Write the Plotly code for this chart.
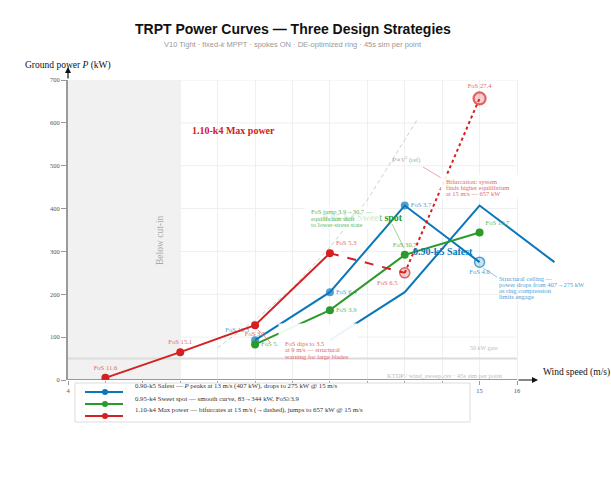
import plotly.graph_objects as go

# ---------------- data ----------------
wind_blue = [9, 11, 13, 15]
power_blue = [93, 205, 407, 275]
fos_blue = ["10.3", "6.4", "3.7", "4.0"]

wind_green = [9, 11, 13, 15]
power_green = [83, 163, 292, 344]
fos_green = ["5.1", "3.9", "30.7", "10.7"]

wind_red = [5, 7, 9, 11]
power_red = [5, 65, 128, 296]
fos_red = ["11.6", "15.1", "3.5", "5.3"]

wind_red_branch = [11, 13, 15]
power_red_branch = [296, 250, 657]
fos_red_branch = ["6.5", "27.4"]

wind_ref = [8, 9, 10, 11, 12, 13.33]
power_ref = [75, 140, 215, 310, 420, 607]

gate_kw = 50
cut_in = [4, 7]
x_ticks = list(range(4, 17))
y_ticks = list(range(0, 701, 100))
blue_offset = 2  # the Safest curve also appears drawn a second time, shifted by +2 m/s

series_names = [
    "0.90-k5 Safest — <i>P</i> peaks at 13 m/s (407 kW), drops to 275 kW @ 15 m/s",
    "0.95-k4 Sweet spot — smooth curve, 83→344 kW, FoS≥3.9",
    "1.10-k4 Max power — bifurcates at 13 m/s (→dashed), jumps to 657 kW @ 15 m/s",
]
BLUE, GREEN, RED = "#0a77bb", "#2a9a2a", "#d42020"
BLUE_L, GREEN_L, RED_L = "#4ba2d6", "#5cb85c", "#e06a6a"
series_colors = [BLUE, GREEN, RED]

SERIF = "Liberation Serif, Times New Roman, serif"
SANS = "Liberation Sans, Arial, sans-serif"

# ---------------- geometry ----------------
L, T, W, H = 68, 80, 543, 300
PX_PER_MS = (517 - 68) / 12.0
x_range = [4, 4 + W / PX_PER_MS]


def px(x):
    return (x - L) / W


def py(y):
    return (T + H - y) / H


fig = go.Figure()

# reference cubic
fig.add_trace(go.Scatter(x=wind_ref, y=power_ref, mode="lines", name="P∝V³ (ref)",
                         line=dict(color="#cfcfcf", width=1, dash="4px,3px"), hoverinfo="skip"))
# duplicated Safest curve (offset)
fig.add_trace(go.Scatter(x=[w + blue_offset for w in wind_blue], y=power_blue, mode="lines",
                         name="Safest (offset copy)", line=dict(color=BLUE, width=2)))
# Safest
fig.add_trace(go.Scatter(
    x=wind_blue, y=power_blue, mode="lines+markers+text", name=series_names[0],
    line=dict(color=BLUE, width=2),
    marker=dict(color=[BLUE, BLUE, BLUE, "rgba(10,119,187,0.3)"], size=[8, 8, 8, 10],
                line=dict(color=BLUE, width=[0, 0, 0, 1.5])),
    text=["FoS " + f for f in fos_blue],
    textposition=["top left", "middle right", "middle right", "bottom center"],
    textfont=dict(family=SERIF, size=6.6, color=BLUE_L)))
# Sweet spot
fig.add_trace(go.Scatter(
    x=wind_green, y=power_green, mode="lines+markers+text", name=series_names[1],
    line=dict(color=GREEN, width=2), marker=dict(color=GREEN, size=8),
    text=["FoS " + f for f in fos_green],
    textposition=["middle right", "middle right", "top center", "top right"],
    textfont=dict(family=SERIF, size=6.6, color=GREEN_L)))
# Max power solid
fig.add_trace(go.Scatter(
    x=wind_red, y=power_red, mode="lines+markers+text", name=series_names[2],
    line=dict(color=RED, width=2), marker=dict(color=RED, size=8),
    text=["FoS " + f for f in fos_red],
    textposition=["top center", "top center", "bottom center", "top right"],
    textfont=dict(family=SERIF, size=6.6, color=RED_L)))
# bifurcated branch
fig.add_trace(go.Scatter(x=wind_red_branch[:2], y=power_red_branch[:2], mode="lines",
                         line=dict(color=RED, width=2, dash="dash"), showlegend=False))
fig.add_trace(go.Scatter(x=wind_red_branch[1:], y=power_red_branch[1:], mode="lines",
                         line=dict(color=RED, width=2, dash="dot"), showlegend=False))
fig.add_trace(go.Scatter(
    x=wind_red_branch[1:], y=power_red_branch[1:], mode="markers+text", showlegend=False,
    marker=dict(color="rgba(212,32,32,0.3)", size=[10, 12], line=dict(color=RED, width=[1.5, 2.2])),
    text=["FoS " + f for f in fos_red_branch], textposition=["bottom left", "top center"],
    textfont=dict(family=SERIF, size=6.6, color=RED_L)))

shapes = []
# horizontal grid (stops at 16 m/s)
for yv in y_ticks[1:]:
    shapes.append(dict(type="line", xref="x", yref="y", x0=x_ticks[0], x1=x_ticks[-1], y0=yv, y1=yv,
                       line=dict(color="#efefef", width=1), layer="between"))
# below cut-in shade
shapes.append(dict(type="rect", xref="x", yref="y", x0=cut_in[0], x1=cut_in[1], y0=y_ticks[0], y1=y_ticks[-1],
                   fillcolor="#f1f1f1", line=dict(width=0), layer="between"))
# 50 kW gate
shapes.append(dict(type="line", xref="x", yref="y", x0=x_ticks[0], x1=x_ticks[-1], y0=gate_kw, y1=gate_kw,
                   line=dict(color="#dcdcdc", width=2), layer="between"))
# x axis line
shapes.append(dict(type="line", xref="x", yref="y", x0=x_ticks[0], x1=x_ticks[-1], y0=0, y1=0,
                   line=dict(color="#9a9a9a", width=2), layer="between"))
# leader lines
for (a, b, c, d, col) in [(392, 224, 404, 248, "rgba(92,184,92,0.6)"),
                          (423, 167, 443, 179, "rgba(224,106,106,0.6)"),
                          (483, 268, 497, 277, "rgba(75,162,214,0.6)"),
                          (258, 330, 270, 342, "rgba(224,106,106,0.6)")]:
    shapes.append(dict(type="line", xref="paper", yref="paper", x0=px(a), y0=py(b), x1=px(c), y1=py(d),
                       line=dict(color=col, width=1), layer="above"))
# custom legend box + glyphs
shapes.append(dict(type="rect", xref="paper", yref="paper", x0=px(75), x1=px(470), y0=py(422), y1=py(383),
                   fillcolor="white", line=dict(color="#dddddd", width=1), layer="above"))
legend_rows = [392, 404, 416]
for row, col in zip(legend_rows, series_colors):
    shapes.append(dict(type="line", xref="paper", yref="paper", x0=px(85), x1=px(123), y0=py(row), y1=py(row),
                       line=dict(color=col, width=2.2), layer="above"))
    shapes.append(dict(type="circle", xref="paper", yref="paper", x0=px(102), x1=px(108),
                       y0=py(row + 3), y1=py(row - 3), fillcolor=col, line=dict(color=col, width=0), layer="above"))

ann = []
# titles
ann.append(dict(x=10, xref="x", y=py(19), yref="paper", xanchor="center",
                text="<b>TRPT Power Curves — Three Design Strategies</b>",
                showarrow=False, font=dict(family=SANS, size=14, color="#111")))
ann.append(dict(x=10, xref="x", y=py(38), yref="paper", xanchor="center",
                text="V10 Tight · fixed-<i>k</i> MPPT · spokes ON · DE-optimized ring · 45s sim per point",
                showarrow=False, font=dict(family=SANS, size=7.5, color="#999")))
# axis titles and arrows
ann.append(dict(x=px(68), xref="paper", y=py(58), yref="paper", xanchor="center",
                text="Ground power <i>P</i> (kW)",
                showarrow=False, font=dict(family=SERIF, size=9.5, color="#111")))
ann.append(dict(x=px(541), xref="paper", y=py(380), yref="paper", text="Wind speed (m/s)", xanchor="left",
                showarrow=False, font=dict(family=SERIF, size=9.5, color="#111")))
ann.append(dict(x=px(538), xref="paper", y=py(380), yref="paper", text="", showarrow=True, ax=-21, ay=0,
                arrowhead=2, arrowsize=1, arrowwidth=1.2, arrowcolor="#111"))
ann.append(dict(x=px(68), xref="paper", y=py(67), yref="paper", text="", showarrow=True, ax=0, ay=13,
                arrowhead=2, arrowsize=1, arrowwidth=1.2, arrowcolor="#111"))
# misc labels
ann.append(dict(x=px(160), xref="paper", y=py(240), yref="paper", text="Below cut-in", textangle=-90,
                xanchor="center", showarrow=False, font=dict(family=SERIF, size=9.5, color="#aaa")))
ann.append(dict(x=px(484), xref="paper", y=py(353), yref="paper", text="50 kW gate", xanchor="center",
                showarrow=False, font=dict(family=SERIF, size=6, color="#bbb")))
ann.append(dict(x=px(444), xref="paper", y=py(381), yref="paper", xanchor="center",
                text="KTDP / wind_sweep.csv · 45s sim per point",
                showarrow=False, font=dict(family=SERIF, size=6.5, color="#bbb")))
ann.append(dict(x=px(405), xref="paper", y=py(153), yref="paper", xanchor="center",
                text="<i>P</i>∝<i>V</i><sup>3</sup> (ref)",
                showarrow=False, font=dict(family=SERIF, size=6.5, color="#aaa")))
# series labels
ann.append(dict(x=px(190), xref="paper", y=py(123), yref="paper", text="<b>1.10-k4 Max power</b>", xanchor="left",
                showarrow=False, font=dict(family=SERIF, size=10, color=RED)))
ann.append(dict(x=px(405), xref="paper", y=py(217), yref="paper", text="<b>0.95-k4 Sweet spot</b>", xanchor="right",
                showarrow=False, font=dict(family=SERIF, size=10, color=GREEN)))
ann.append(dict(x=px(411), xref="paper", y=py(251), yref="paper", text="<b>0.90-k5 Safest</b>", xanchor="left",
                showarrow=False, font=dict(family=SERIF, size=10, color=BLUE)))
# background boxes for notes
for (x0, y0, x1, y1, a) in [(305, 207, 380, 229, 0.82), (441, 175, 520, 198, 0.9), (279, 337, 357, 361, 0.92)]:
    ann.append(dict(x=px((x0 + x1) / 2), xref="paper", y=py((y0 + y1) / 2), yref="paper", text=" ",
                    xanchor="center", width=x1 - x0, height=y1 - y0, bgcolor="rgba(255,255,255,%s)" % a,
                    borderpad=0, showarrow=False, font=dict(size=4)))


def note(lines, left, top, spacing, color):
    for i, line in enumerate(lines):
        ann.append(dict(x=px(left), xref="paper", y=py(top), yref="paper", text=line, xanchor="left",
                        yanchor="middle", yshift=-i * spacing, showarrow=False,
                        font=dict(family=SERIF, size=6.5, color=color)))


note(["FoS jump 3.9→30.7 —", "equilibrium shift", "to lower-stress state"], 309, 212, 6.5, GREEN_L)
note(["Bifurcation: system", "finds higher equilibrium", "at 15 m/s — 657 kW"], 444, 181, 6, RED_L)
note(["Structural ceiling —", "power drops from 407→275 kW", "as ring compression", "limits engage"],
     497, 278, 6, BLUE_L)
note(["FoS dips to 3.5", "at 9 m/s — structural", "warning for large blades"], 283, 343, 6.5, RED_L)

# legend texts
for row, name in zip(legend_rows, series_names):
    ann.append(dict(x=px(133), xref="paper", y=py(row), yref="paper", text=name, xanchor="left",
                    showarrow=False, font=dict(family=SERIF, size=6.8, color="#333")))

fig.update_layout(
    width=611, height=500, margin=dict(l=L, r=611 - L - W, t=T, b=500 - T - H),
    paper_bgcolor="white", plot_bgcolor="white", showlegend=False,
    shapes=shapes, annotations=ann,
    xaxis=dict(range=x_range, tickvals=x_ticks, ticktext=[str(v) for v in x_ticks], showgrid=True,
               gridcolor="#efefef", gridwidth=1, zeroline=False, showline=False, ticks="outside",
               ticklen=4, tickcolor="#999", tickwidth=1.2,
               tickfont=dict(family=SERIF, size=6.5, color="#555")),
    yaxis=dict(range=[y_ticks[0], y_ticks[-1]], tickvals=y_ticks, showgrid=False, zeroline=False,
               showline=True, linecolor="#9a9a9a", linewidth=2, ticks="outside", ticklen=5,
               tickcolor="#999", tickwidth=1.2, tickfont=dict(family=SERIF, size=6.5, color="#555")),
)

fig.write_html("out.html")
